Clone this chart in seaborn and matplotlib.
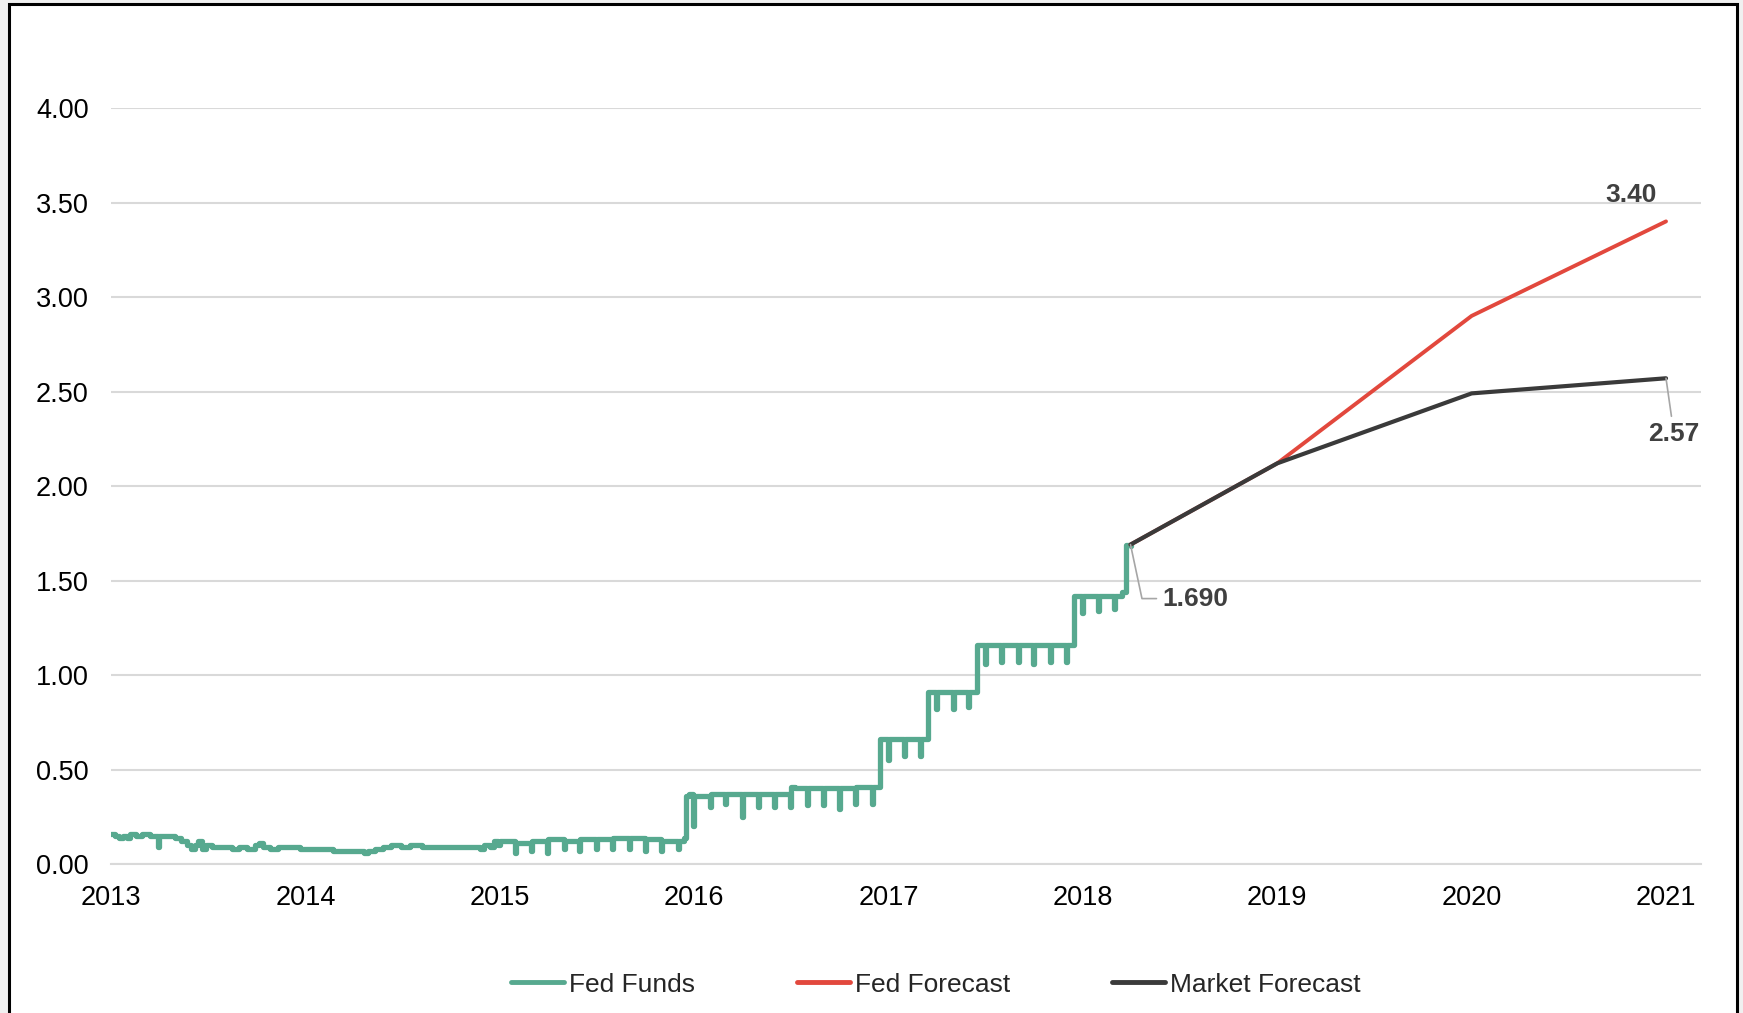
import matplotlib
matplotlib.use("Agg")
import matplotlib.pyplot as plt
import seaborn as sns
import pandas as pd
from matplotlib.patches import Rectangle

# -------------------------------
# Data (decimal years)
# -------------------------------
fed_funds_x = [
    2013.00, 2013.02, 2013.04, 2013.06, 2013.08, 2013.10, 2013.13, 2013.16, 2013.20, 2013.24,
    2013.245, 2013.28, 2013.33, 2013.36, 2013.39, 2013.41, 2013.43, 2013.45, 2013.47, 2013.49,
    2013.52, 2013.58, 2013.62, 2013.66, 2013.70, 2013.74, 2013.76, 2013.78, 2013.82, 2013.86,
    2013.92, 2013.97,
    2014.02, 2014.10, 2014.14, 2014.28, 2014.30, 2014.32, 2014.36, 2014.40, 2014.44, 2014.49,
    2014.54, 2014.60, 2014.68, 2014.76, 2014.84, 2014.90, 2014.92, 2014.95, 2014.97, 2014.99,
    2015.00, 2015.08, 2015.085, 2015.16, 2015.165, 2015.245, 2015.25, 2015.33, 2015.335, 2015.41,
    2015.415, 2015.495, 2015.50, 2015.58, 2015.585, 2015.665, 2015.67, 2015.745, 2015.75, 2015.83,
    2015.835, 2015.915, 2015.92, 2015.95,
    2015.96, 2015.975, 2015.995, 2016.00, 2016.08, 2016.085, 2016.16, 2016.165, 2016.245, 2016.25,
    2016.33, 2016.335, 2016.41, 2016.415, 2016.495, 2016.50, 2016.52, 2016.58, 2016.585, 2016.665,
    2016.67, 2016.745, 2016.75, 2016.83, 2016.835, 2016.915, 2016.92,
    2016.955, 2016.995, 2017.00, 2017.08, 2017.085, 2017.16, 2017.165,
    2017.205, 2017.245, 2017.25, 2017.33, 2017.335, 2017.41, 2017.415,
    2017.455, 2017.495, 2017.50, 2017.58, 2017.585, 2017.665, 2017.67, 2017.745, 2017.75, 2017.83,
    2017.835, 2017.915, 2017.92,
    2017.955, 2017.995, 2018.00, 2018.08, 2018.085, 2018.16, 2018.165, 2018.20,
    2018.22, 2018.245,
]
fed_funds_y = [
    0.16, 0.15, 0.14, 0.15, 0.14, 0.16, 0.15, 0.16, 0.15, 0.09,
    0.15, 0.15, 0.14, 0.12, 0.10, 0.08, 0.10, 0.12, 0.08, 0.10,
    0.09, 0.09, 0.08, 0.09, 0.08, 0.10, 0.11, 0.09, 0.08, 0.09,
    0.09, 0.08,
    0.08, 0.08, 0.07, 0.07, 0.06, 0.07, 0.08, 0.09, 0.10, 0.09,
    0.10, 0.09, 0.09, 0.09, 0.09, 0.08, 0.10, 0.09, 0.12, 0.10,
    0.12, 0.06, 0.11, 0.07, 0.12, 0.06, 0.13, 0.08, 0.12, 0.07,
    0.13, 0.08, 0.13, 0.08, 0.14, 0.08, 0.14, 0.07, 0.13, 0.07,
    0.12, 0.08, 0.12, 0.14,
    0.36, 0.37, 0.20, 0.36, 0.30, 0.37, 0.32, 0.37, 0.25, 0.37,
    0.30, 0.37, 0.30, 0.37, 0.30, 0.41, 0.40, 0.31, 0.40, 0.31,
    0.40, 0.29, 0.40, 0.32, 0.41, 0.32, 0.41,
    0.66, 0.55, 0.66, 0.57, 0.66, 0.57, 0.66,
    0.91, 0.82, 0.91, 0.82, 0.91, 0.83, 0.91,
    1.16, 1.06, 1.16, 1.07, 1.16, 1.07, 1.16, 1.06, 1.16, 1.07,
    1.16, 1.07, 1.16,
    1.42, 1.33, 1.42, 1.34, 1.42, 1.35, 1.42, 1.44,
    1.69, 1.68,
]

forecast_years = [2018.245, 2019, 2020, 2021]
fed_forecast = [1.69, 2.12, 2.90, 3.40]
market_forecast = [1.69, 2.12, 2.49, 2.57]

year_ticks = [2013, 2014, 2015, 2016, 2017, 2018, 2019, 2020, 2021]
rate_ticks = [0.0, 0.5, 1.0, 1.5, 2.0, 2.5, 3.0, 3.5, 4.0]

GREEN = "#57a98f"
RED = "#e2483d"
DARK = "#3a3a3a"
LABEL = "#404040"

# -------------------------------
# DataFrames
# -------------------------------
df_ff = pd.DataFrame({"ano": fed_funds_x, "taxa": fed_funds_y})
df_fc = pd.DataFrame({"ano": forecast_years, "fed": fed_forecast,
                      "mercado": market_forecast})

# -------------------------------
# Figure
# -------------------------------
sns.set_style("white")
plt.rcParams["font.family"] = ["Liberation Sans", "DejaVu Sans"]

fig = plt.figure(figsize=(17.43, 10.13), dpi=100, facecolor="#f0f0f0")
fig.patches.append(Rectangle((9 / 1743, -0.02), 1728 / 1743, 1.02 - 4 / 1013,
                             transform=fig.transFigure, facecolor="white",
                             edgecolor="black", linewidth=2.2, zorder=-10))
ax = fig.add_axes([111 / 1743, 1 - 864 / 1013, 1590 / 1743, 756 / 1013])
ax.set_facecolor("none")

sns.lineplot(data=df_ff, x="ano", y="taxa", ax=ax, color=GREEN, linewidth=3.8,
             drawstyle="steps-post", estimator=None, sort=False,
             label="Fed Funds", solid_joinstyle="round", solid_capstyle="round")
sns.lineplot(data=df_fc, x="ano", y="fed", ax=ax, color=RED, linewidth=2.8,
             estimator=None, label="Fed Forecast", solid_capstyle="round")
sns.lineplot(data=df_fc, x="ano", y="mercado", ax=ax, color=DARK, linewidth=3.0,
             estimator=None, label="Market Forecast", solid_capstyle="round")

ax.set_xlim(2013, 2021.18)
ax.set_ylim(0, 4.0)
ax.set_xticks(year_ticks)
ax.set_xticklabels([str(y) for y in year_ticks])
ax.set_yticks(rate_ticks)
ax.set_yticklabels([f"{v:.2f}" for v in rate_ticks])
ax.tick_params(axis="both", length=0, labelsize=19.5, colors="black")
ax.tick_params(axis="y", pad=16)
ax.tick_params(axis="x", pad=15)
ax.grid(axis="y", color="#d9d9d9", linewidth=1.5)
ax.set_axisbelow(True)
for s in ["top", "right", "left"]:
    ax.spines[s].set_visible(False)
ax.spines["bottom"].set_color("#d9d9d9")
ax.spines["bottom"].set_linewidth(1.5)
ax.set_xlabel("")
ax.set_ylabel("")

# -------------------------------
# Labels
# -------------------------------
ax.annotate("1.690", xy=(forecast_years[0], fed_forecast[0]), xytext=(32, -54),
            textcoords="offset pixels", ha="left", va="center", fontsize=19,
            fontweight="bold", color=LABEL,
            arrowprops=dict(arrowstyle="-", color="#a6a6a6", lw=1.2, shrinkA=2, shrinkB=0,
                            connectionstyle="angle,angleA=0,angleB=-78,rad=0"))
ax.annotate(f"{fed_forecast[-1]:.2f}", xy=(forecast_years[-1], fed_forecast[-1]),
            xytext=(-35, 26), textcoords="offset pixels", ha="center", va="center",
            fontsize=19, fontweight="bold", color=LABEL)
ax.annotate(f"{market_forecast[-1]:.2f}", xy=(forecast_years[-1], market_forecast[-1]),
            xytext=(8, -56), textcoords="offset pixels", ha="center", va="center",
            fontsize=19, fontweight="bold", color=LABEL,
            arrowprops=dict(arrowstyle="-", color="#a6a6a6", lw=1.2, shrinkA=2, shrinkB=0))

# -------------------------------
# Legend
# -------------------------------
ax.legend(loc="center", bbox_to_anchor=(0.537, 0.028), bbox_transform=fig.transFigure,
          ncol=3, frameon=False, fontsize=19, handlelength=2.0, handletextpad=0.2,
          columnspacing=3.85)
for line in ax.get_legend().get_lines():
    line.set_linewidth(3.5)

fig.savefig("out.png", dpi=100, facecolor=fig.get_facecolor())
